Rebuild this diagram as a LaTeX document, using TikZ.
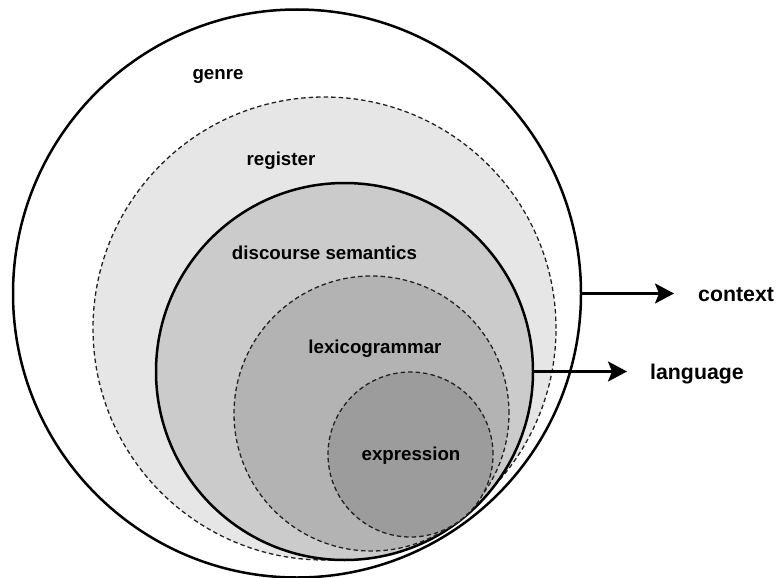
\documentclass[tikz,border=0pt]{standalone}
\usepackage{fontspec}
\setmainfont{Liberation Sans}
\usetikzlibrary{arrows.meta}
\definecolor{regfill}{HTML}{E6E6E6}
\definecolor{disfill}{HTML}{CBCBCB}
\definecolor{lexfill}{HTML}{B3B3B3}
\definecolor{expfill}{HTML}{9C9C9C}
\definecolor{dashcol}{HTML}{222222}
\tikzset{
  solidring/.style={circle, inner sep=0pt, outer sep=0pt, draw=black, line width=2.5pt},
  dashring/.style={circle, inner sep=0pt, outer sep=0pt, draw=dashcol, line width=1.3pt, dash pattern=on 4.5pt off 3pt},
  inlabel/.style={anchor=base, inner sep=0pt, font=\bfseries\fontsize{18.7}{22}\selectfont},
  outlabel/.style={anchor=base west, inner sep=0pt, font=\bfseries\fontsize{21.3}{25}\selectfont},
  pointer/.style={line width=2.7pt, -{Stealth[length=19pt, width=20pt, inset=4pt]}}
}
\begin{document}
\begin{tikzpicture}[x=1pt, y=-1pt]
\useasboundingbox (0,0) rectangle (779,578);
\node[solidring, fill=white, minimum size=568pt] (outer) at (297,293.5) {};
\node[dashring, fill=regfill, minimum size=463pt] (reg) at (324.5,328.5) {};
\node[solidring, fill=disfill, minimum size=377pt] (dis) at (344.5,371.5) {};
\node[dashring, fill=lexfill, minimum size=275pt] (lex) at (371.5,413.5) {};
\node[dashring, fill=expfill, minimum size=165pt] (exp) at (410.5,454.5) {};

\node[inlabel] (tgenre) at (218,79) {genre};
\node[inlabel] (treg) at (281,165) {register};
\node[inlabel] (tdis) at (324.5,259) {discourse semantics};
\node[inlabel] (tlex) at (375,353) {lexicogrammar};
\node[inlabel] (texp) at (411,460) {expression};

\node[outlabel] (tcontext) at (698,301) {context};
\node[outlabel] (tlang) at (650,379) {language};

\coordinate (ctip) at (674,293.5);
\coordinate (ltip) at (627,371.5);
\draw[pointer] (outer.east) -- (ctip);
\draw[pointer] (dis.east) -- (ltip);
\end{tikzpicture}
\end{document}
